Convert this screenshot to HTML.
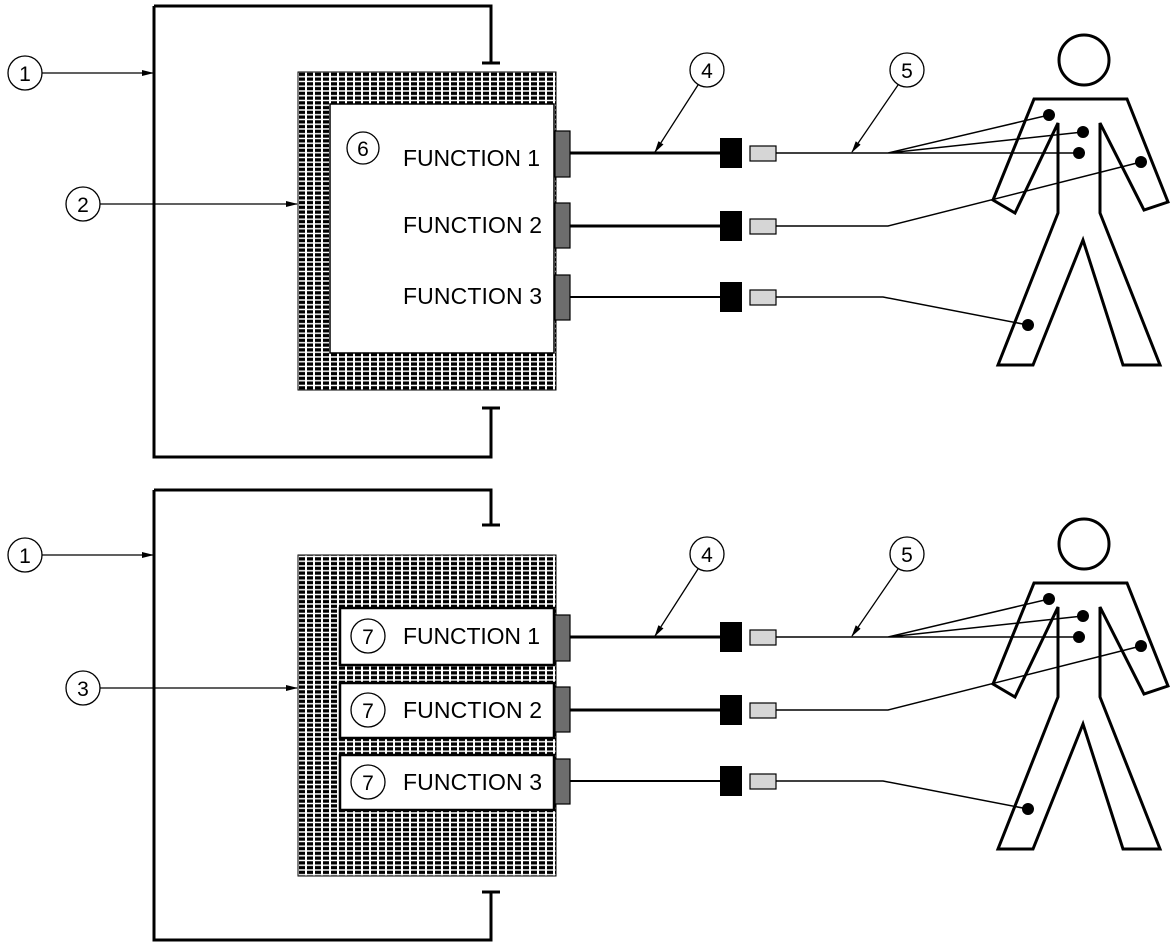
<!DOCTYPE html>
<html><head><style>body{margin:0;background:#fff}svg{display:block}</style></head><body>
<svg width="1175" height="948" viewBox="0 0 1175 948" xmlns="http://www.w3.org/2000/svg" font-family="Liberation Sans, Arial, sans-serif">
<defs>
<pattern id="g" x="298" y="72" width="8" height="4.75" patternUnits="userSpaceOnUse"><rect width="8" height="4.75" fill="#fff"/><rect x="1" y="0.7" width="6" height="3.3" fill="#000"/></pattern>
<marker id="a" markerWidth="12" markerHeight="8" refX="11" refY="4" orient="auto" markerUnits="userSpaceOnUse"><path d="M0,1 L12,4 L0,7 Z" fill="#000"/></marker>
<g id="fig" fill="none" stroke="#000" stroke-width="3">
<circle cx="1084" cy="60" r="25"/>
<path d="M1034,99 L1127,99 L1168,202 L1144,210 L1100,123 L1100,213 L1160,365 L1123,365 L1083,240 L1033,365 L998,365 L1058,213 L1058,123 L1015,213 L993,200 Z" stroke-linejoin="miter"/>
</g>
<g id="conn">
<g stroke="#000" stroke-width="1.5" fill="none">
<path d="M776,153 L888,153 L1049,115 M888,153 L1083,132 M888,153 L1079,153 M776,226 L888,226 L1141,162 M776,297 L883,297 L1028,325"/>
</g>
<g fill="#000"><circle cx="1049" cy="115" r="6"/><circle cx="1083" cy="132" r="6"/><circle cx="1079" cy="153" r="6"/><circle cx="1141" cy="162" r="6"/><circle cx="1028" cy="325" r="6"/></g>
<g fill="#6d6d6d" stroke="#000" stroke-width="1.2"><rect x="555" y="131" width="15" height="46"/><rect x="555" y="203" width="15" height="45"/><rect x="555" y="275" width="15" height="45"/></g>
<path d="M570,153 H720 M570,226 H720" stroke="#000" stroke-width="3"/>
<path d="M570,297 H720" stroke="#000" stroke-width="2"/>
<g fill="#000"><rect x="720" y="138" width="22" height="30"/><rect x="720" y="211" width="22" height="30"/><rect x="720" y="282" width="22" height="30"/></g>
<g fill="#d6d6d6" stroke="#000" stroke-width="1.2"><rect x="750" y="146" width="26" height="15"/><rect x="750" y="219" width="26" height="15"/><rect x="750" y="290" width="26" height="15"/></g>
<g stroke="#000" stroke-width="1.3" fill="none"><circle cx="707" cy="70" r="17"/><circle cx="907" cy="70" r="17"/>
<path d="M698,85 L655,152" marker-end="url(#a)"/><path d="M898,85 L852,152" marker-end="url(#a)"/></g>
<g font-size="21" text-anchor="middle"><text x="707" y="78">4</text><text x="907" y="78">5</text></g>
</g>
</defs>

<!-- TOP PANEL -->
<path d="M154,6 V457 H491 V408 M154,6 H491 V63 M482,63 H500 M482,408 H500" fill="none" stroke="#000" stroke-width="3"/>
<g stroke="#000" stroke-width="1.3" fill="none"><circle cx="25" cy="73" r="17"/><circle cx="83" cy="204" r="17"/>
<path d="M42,73 H153" marker-end="url(#a)"/><path d="M100,204 H297" marker-end="url(#a)"/></g>
<g font-size="21" text-anchor="middle"><text x="25" y="81">1</text><text x="83" y="212">2</text></g>
<rect x="298" y="72" width="258" height="318" fill="url(#g)" stroke="#000" stroke-width="1"/>
<rect x="330" y="104" width="224" height="249" fill="#fff" stroke="#000" stroke-width="1.5"/>
<circle cx="363" cy="148" r="16" fill="none" stroke="#000" stroke-width="1.3"/>
<text x="363" y="156" font-size="21" text-anchor="middle">6</text>
<g font-size="23"><text x="403" y="166" textLength="137">FUNCTION 1</text><text x="403" y="233" textLength="139">FUNCTION 2</text><text x="403" y="304" textLength="139">FUNCTION 3</text></g>
<use href="#conn"/>
<use href="#fig"/>

<!-- BOTTOM PANEL -->
<path d="M154,490 V940 H491 V892 M154,490 H491 V525 M482,525 H500 M482,892 H500" fill="none" stroke="#000" stroke-width="3"/>
<g stroke="#000" stroke-width="1.3" fill="none"><circle cx="25" cy="555" r="17"/><circle cx="83" cy="688" r="17"/>
<path d="M42,555 H153" marker-end="url(#a)"/><path d="M100,688 H297" marker-end="url(#a)"/></g>
<g font-size="21" text-anchor="middle"><text x="25" y="563">1</text><text x="83" y="696">3</text></g>
<rect x="298" y="555" width="258" height="321" fill="url(#g)" stroke="#000" stroke-width="1"/>
<g fill="#fff" stroke="#000" stroke-width="2.5">
<rect x="340" y="608" width="214" height="57"/><rect x="340" y="683" width="214" height="55"/><rect x="340" y="755" width="214" height="55"/></g>
<g stroke="#000" stroke-width="1.3" fill="none"><circle cx="368" cy="636" r="17"/><circle cx="368" cy="710" r="17"/><circle cx="368" cy="782" r="17"/></g>
<g font-size="21" text-anchor="middle"><text x="368" y="644">7</text><text x="368" y="718">7</text><text x="368" y="790">7</text></g>
<g font-size="23"><text x="403" y="644" textLength="137">FUNCTION 1</text><text x="403" y="718" textLength="139">FUNCTION 2</text><text x="403" y="790" textLength="139">FUNCTION 3</text></g>
<g transform="translate(0,484)"><use href="#conn"/><use href="#fig"/></g>
</svg>
</body></html>
